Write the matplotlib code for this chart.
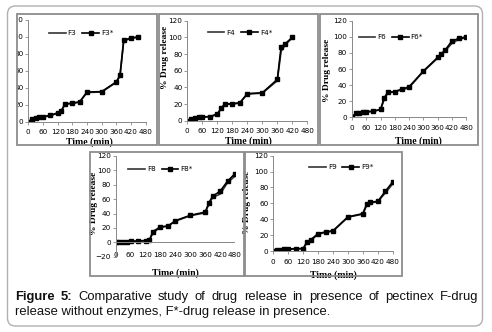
import matplotlib
matplotlib.use("Agg")
import matplotlib.pyplot as plt
from matplotlib.patches import Rectangle, FancyBboxPatch
from matplotlib.lines import Line2D
from matplotlib.transforms import IdentityTransform

# time points (min) and % drug release
t3 = [0, 15, 30, 45, 60, 90, 120, 135, 150, 180, 210, 240, 300, 360, 375, 390, 420, 450]
f3 = [0, 2.5, 4, 4.5, 5.5, 7, 10, 12.5, 20.5, 21.5, 23, 34.5, 35, 46.5, 54, 95, 98.5, 99.5]
f3s = [0, 3, 4.5, 5, 6, 7.5, 10.5, 13, 21, 22, 23.5, 35, 35.5, 47, 55, 96, 99, 100]

t4 = [0, 15, 30, 45, 60, 90, 120, 135, 150, 180, 210, 240, 300, 360, 375, 390, 420]
f4 = [0, 2, 3, 4, 4.5, 4.5, 7.5, 14, 19.5, 20, 21, 32, 33, 48, 83, 90.5, 99.5]
f4s = [0, 2.5, 3.5, 4.5, 4.5, 5, 8, 15, 20, 20.5, 21.5, 32.5, 33.5, 49.5, 88, 92, 100]

t6 = [0, 15, 30, 45, 60, 90, 120, 135, 150, 180, 210, 240, 300, 360, 375, 390, 420, 450, 480]
f6 = [0, 4.5, 5.5, 6, 6.5, 7.5, 9.5, 22, 30, 32, 34, 37, 57, 73.5, 78, 82, 92, 97, 99]
f6s = [0, 5, 5.5, 6, 7, 7.5, 10, 24, 31, 32, 35, 38, 57.5, 74.5, 79, 83, 95, 98, 100]

t8 = [0, 15, 30, 45, 60, 90, 120, 135, 150, 180, 210, 240, 300, 360, 375, 390, 420, 450, 480]
f8 = [0, 0, 0.5, 1, 1, 1.5, 2, 2.5, 13, 21, 22.5, 29.5, 37, 41, 53, 62.5, 67, 83, 92]
f8s = [0, 0.5, 0.5, 1, 1.5, 2, 2.5, 3, 15, 21.5, 22.5, 30, 37.5, 42, 55, 64, 71, 85, 95.5]

t9 = [0, 15, 30, 45, 60, 90, 120, 135, 150, 180, 210, 240, 300, 360, 375, 390, 420, 450, 480]
f9 = [0, 0.5, 1, 1.5, 2, 2.5, 3, 10, 13, 21, 23.5, 25, 42.5, 46.5, 57, 60.5, 62, 73, 84.5]
f9s = [0, 1, 1.5, 2, 2.5, 3, 3, 11.5, 14, 22, 24, 25.5, 43, 47, 59, 61.5, 62.5, 75, 87]

xticks = [0, 60, 120, 180, 240, 300, 360, 420, 480]

W, H = 492, 332
fig = plt.figure(figsize=(W / 100, H / 100), dpi=100)
pix = IdentityTransform()


def add_ax(x0, x1, ybot, ytop):
    return fig.add_axes([x0 / W, 1 - ybot / H, (x1 - x0) / W, (ybot - ytop) / H])


def panel(ax, t, f, fs, name, ylo, leg, ylab, xlab):
    ax.plot(t, f, color="#333333", lw=1.2)
    ax.plot(t, fs, color="black", lw=1.2, marker="s", ms=2.6)
    ax.set_xlim(0, 480)
    ax.set_ylim(ylo, 120)
    ax.set_xticks(xticks)
    ax.set_yticks(range(ylo, 121, 20))
    for s in ["top", "right"]:
        ax.spines[s].set_visible(False)
    ax.spines["left"].set_color("#888888")
    ax.spines["left"].set_linewidth(0.7)
    ax.tick_params(axis="y", direction="out", length=2, width=0.6, color="#888888",
                   labelsize=5.2, pad=1.5)
    if ylo < 0:
        ax.spines["bottom"].set_visible(False)
        ax.axhline(0, color="#888888", lw=0.7)
        ax.tick_params(axis="x", length=0, labelsize=5.2, pad=-3.5)
    else:
        ax.spines["bottom"].set_color("#888888")
        ax.spines["bottom"].set_linewidth(0.7)
        ax.tick_params(axis="x", direction="out", length=2, width=0.6, color="#888888",
                       labelsize=5.2, pad=3.5)
    handles = [Line2D([], [], color="#333333", lw=1.2),
               Line2D([], [], color="black", lw=1.2, marker="s", ms=2.6)]
    ax.legend(handles, [name, name + "*"], ncol=2, frameon=False, fontsize=5.2,
              loc="center", bbox_to_anchor=leg, handlelength=2.3, handletextpad=0.3,
              columnspacing=0.8, borderpad=0)
    if ylab is not None:
        ax.set_ylabel("% Drug release", family="Liberation Serif", weight="bold", fontsize=6.8)
        ax.yaxis.set_label_coords(*ylab)
    ax.set_xlabel("Time (min)", family="Liberation Serif", weight="bold", fontsize=7)
    ax.xaxis.set_label_coords(*xlab)


ax1 = add_ax(28.3, 145.7, 121.7, 20)
panel(ax1, t3, f3, f3s, "F3", 0, (0.45, 0.87), None, (0.52, -0.15))
ax2 = add_ax(187.3, 307.3, 120.7, 20.7)
panel(ax2, t4, f4, f4s, "F4", 0, (0.44, 0.88), (-0.15, 0.63), (0.51, -0.16))
ax3 = add_ax(352, 466.3, 117.3, 20.7)
panel(ax3, t6, f6, f6s, "F6", 0, (0.34, 0.83), (-0.18, 0.49), (0.58, -0.2))
ax4 = add_ax(115.7, 235, 256.7, 156)
panel(ax4, t8, f8, f8s, "F8", -20, (0.375, 0.87), (-0.15, 0.53), (0.5, -0.12))
ax5 = add_ax(273.3, 392.7, 251, 155.7)
panel(ax5, t9, f9, f9s, "F9", 0, (0.57, 0.88), (-0.19, 0.51), (0.5, -0.2))

# white cover where the first panel is cut off on the left
fig.add_artist(Rectangle((8.5, H - 146), 8, 133, transform=pix, fc="white", ec="none", zorder=2))

# grey panel frames (pixel coords: left, top, right, bottom)
frames = [(16.5, 14, 157, 145), (159, 14, 318, 145), (320, 14, 478, 145),
          (90, 152, 244, 276), (245, 152, 402, 276)]
for l, tp, r, b in frames:
    fig.add_artist(Rectangle((l, H - b), r - l, b - tp, transform=pix, fill=False,
                             ec="#8c8c8c", lw=1.3, zorder=3))

# outer rounded box
fig.add_artist(FancyBboxPatch((7.5, H - 326), 475, 320, boxstyle="round,pad=0,rounding_size=8",
                              transform=pix, fill=False, ec="#b0b0b0", lw=1.0, zorder=3))

# caption, first line justified
fig.canvas.draw()
renderer = fig.canvas.get_renderer()
words = ["Figure", "5:", "Comparative", "study", "of", "drug", "release", "in", "presence",
         "of", "pectinex", "F-drug"]
texts = []
for i, w in enumerate(words):
    txt = fig.text(0, H - 300, w, transform=pix, family="Liberation Sans", fontsize=9.4,
                   weight="bold" if i < 2 else "normal", color="#111111", va="baseline")
    texts.append(txt)
widths = [txt.get_window_extent(renderer).width for txt in texts]
x_left, x_right = 15, 478
gap = (x_right - x_left - sum(widths)) / (len(words) - 1)
x = x_left
for txt, wd in zip(texts, widths):
    txt.set_x(x)
    x += wd + gap
fig.text(x_left, H - 315, "release without enzymes, F*-drug release in presence.", transform=pix,
         family="Liberation Sans", fontsize=9.4, color="#111111", va="baseline")

fig.savefig("out.png", dpi=100)
